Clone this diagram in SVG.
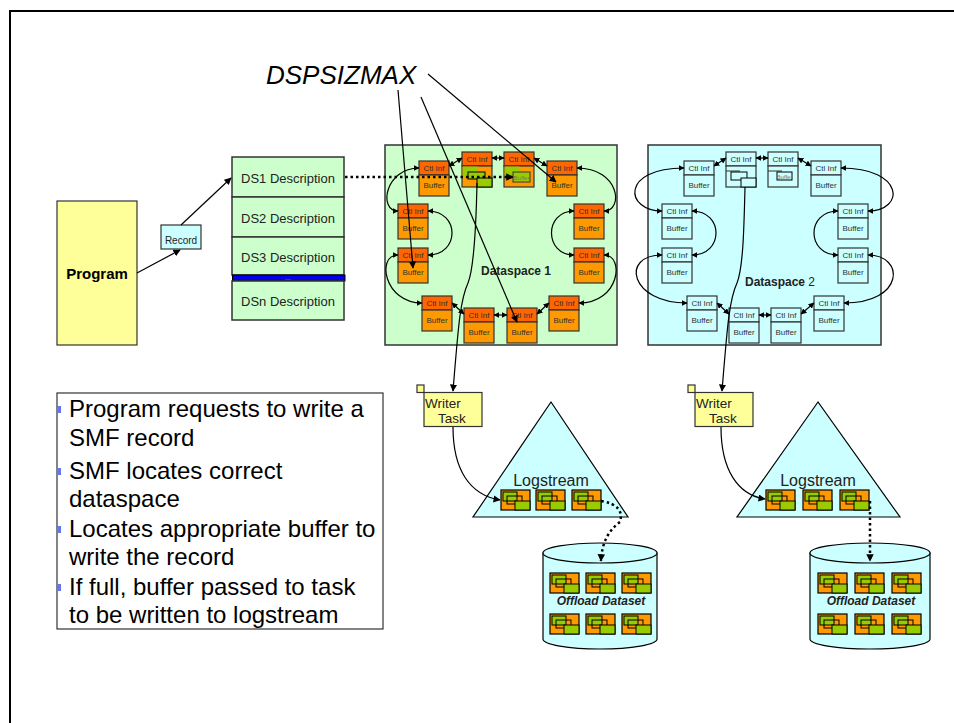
<svg xmlns="http://www.w3.org/2000/svg" width="954" height="723" viewBox="0 0 954 723">
<style>
  text { font-family: "Liberation Sans", Arial, sans-serif; }
  .ctl { fill: #FF6600; stroke: #333; stroke-width: 1.2; }
  .buf { fill: #FF9900; stroke: #333; stroke-width: 1.2; }
  .cc { fill: #CCFFFF; stroke: #333; stroke-width: 1.2; }
  .ct { font-size: 8px; text-anchor: middle; fill: #333; }
  .conn { fill: none; stroke: #000; stroke-width: 1.2; marker-start: url(#ah); marker-end: url(#ah); }
  .line { fill: none; stroke: #000; stroke-width: 1.2; marker-end: url(#ah2); }
  .dot { fill: none; stroke: #000; stroke-width: 2.5; stroke-dasharray: 2.5 3; marker-end: url(#ah3); }
  .dsd { fill: #CCFFCC; stroke: #333; stroke-width: 1.5; }
  .dst { font-size: 13px; fill: #222; }
  .bt { font-size: 24px; fill: #000; }
  .bul { fill: #6677EE; }
  .lg { font-size: 16px; text-anchor: middle; fill: #222; }
  .off { font-size: 12px; font-weight: bold; font-style: italic; text-anchor: middle; fill: #222; }
  .wt { font-size: 13.5px; fill: #222; }
  .yel { fill: #FFFF99; stroke: #333; stroke-width: 1.2; }
  .cyl { fill: #CCFFFF; stroke: #000; stroke-width: 1.2; }
</style>
<defs>
  <marker id="ah" viewBox="0 0 10 10" refX="9" refY="5" markerWidth="5" markerHeight="5" orient="auto-start-reverse">
    <path d="M0,0 L10,5 L0,10 z" fill="#000"/>
  </marker>
  <marker id="ah2" viewBox="0 0 10 10" refX="9" refY="5" markerWidth="6" markerHeight="6" orient="auto">
    <path d="M0,0 L10,5 L0,10 z" fill="#000"/>
  </marker>
  <marker id="ah3" viewBox="0 0 10 10" refX="9" refY="5" markerWidth="3" markerHeight="3" orient="auto">
    <path d="M0,0 L10,5 L0,10 z" fill="#000"/>
  </marker>
  <g id="icon">
    <rect x="0" y="0" width="29" height="20" fill="#FF9900" stroke="#000" stroke-width="1.2"/>
    <rect x="2" y="2" width="14" height="9" fill="#99CC00" stroke="#000" stroke-width="1"/>
    <rect x="6" y="6" width="15" height="8" fill="none" stroke="#000" stroke-width="1"/>
    <rect x="14" y="11" width="15" height="9" fill="#99CC00" stroke="#000" stroke-width="1"/>
  </g>
  <g id="cellO">
    <rect class="ctl" x="0" y="0" width="30" height="14"/>
    <rect class="buf" x="0" y="14" width="30" height="21"/>
    <text class="ct" x="15" y="10">Ctl Inf</text>
    <text class="ct" x="15" y="27">Buffer</text>
  </g>
  <g id="cellC">
    <rect class="cc" x="0" y="0" width="30" height="14"/>
    <rect class="cc" x="0" y="14" width="30" height="21"/>
    <text class="ct" x="15" y="10">Ctl Inf</text>
    <text class="ct" x="15" y="27">Buffer</text>
  </g>
</defs>

<rect x="10" y="11" width="970" height="740" fill="#fff" stroke="#000" stroke-width="2"/>

<g id="dspsizmax">
  <text x="266" y="84" font-size="26" font-style="italic" fill="#000">DSPSIZMAX</text>
</g>

<g id="program">
  <rect class="yel" x="57" y="201" width="80" height="144"/>
  <text x="97" y="279" font-size="15" font-weight="bold" text-anchor="middle" fill="#000">Program</text>
</g>

<g id="record">
  <rect x="161" y="225" width="40" height="24" fill="#CCFFFF" stroke="#333" stroke-width="1.2"/>
  <text x="181" y="243.5" font-size="10" text-anchor="middle" fill="#222">Record</text>
</g>

<g id="ds-descriptions">
  <rect class="dsd" x="232" y="157" width="112" height="40"/>
  <text class="dst" x="241" y="182.5">DS1 Description</text>
  <rect class="dsd" x="232" y="197" width="112" height="40"/>
  <text class="dst" x="241" y="222.5">DS2 Description</text>
  <rect class="dsd" x="232" y="237" width="112" height="38"/>
  <text class="dst" x="241" y="261.5">DS3 Description</text>
  <rect x="232.5" y="275" width="112.5" height="6" fill="#0000EE" stroke="#000" stroke-width="1"/>
  <text x="288" y="280" font-size="7" text-anchor="middle" fill="#9999FF">...</text>
  <rect class="dsd" x="232" y="281" width="112" height="39"/>
  <text class="dst" x="241" y="306">DSn Description</text>
</g>

<g id="dataspace1">
  <rect x="385" y="145" width="232" height="200" fill="#CCFFCC" stroke="#333" stroke-width="1.5"/>
  <text x="516" y="275" font-size="12" font-weight="bold" text-anchor="middle" fill="#222">Dataspace 1</text>
</g>
<g id="dataspace2">
  <rect x="648" y="145" width="233" height="200" fill="#CCFFFF" stroke="#333" stroke-width="1.5"/>
  <text x="780" y="286" font-size="12" text-anchor="middle" fill="#222"><tspan font-weight="bold">Dataspace</tspan> 2</text>
</g>

<g id="ds1-cells">
  <g id="ds1-c1"><use href="#cellO" x="419" y="161"/></g>
  <g id="ds1-c2" transform="translate(462,152)">
    <rect class="ctl" width="30" height="14"/>
    <rect class="buf" y="14" width="30" height="21"/>
    <rect x="0.6" y="14.6" width="15" height="10" fill="#99CC00"/>
    <rect x="6" y="20" width="17" height="7" fill="#99CC00" stroke="#000" stroke-width="1"/>
    <rect x="15" y="26" width="15" height="9" fill="#99CC00" stroke="#000" stroke-width="1"/>
    <text class="ct" x="15" y="10">Ctl Inf</text>
  </g>
  <g id="ds1-c3" transform="translate(504,152)">
    <rect class="ctl" width="30" height="14"/>
    <rect class="buf" y="14" width="30" height="21"/>
    <rect x="0.6" y="14.6" width="15" height="11" fill="#99CC00"/>
    <rect x="9" y="20" width="17" height="10" fill="#99CC00" stroke="#333" stroke-width="1"/>
    <text x="17.5" y="28" font-size="6" text-anchor="middle" fill="#777">Buffer</text>
    <text class="ct" x="15" y="10">Ctl Inf</text>
  </g>
  <g id="ds1-c4"><use href="#cellO" x="547" y="161"/></g>
  <g id="ds1-c5"><use href="#cellO" x="398" y="204"/></g>
  <g id="ds1-c6"><use href="#cellO" x="574" y="204"/></g>
  <g id="ds1-c7"><use href="#cellO" x="398" y="248"/></g>
  <g id="ds1-c8"><use href="#cellO" x="574" y="248"/></g>
  <g id="ds1-c9"><use href="#cellO" x="422" y="296"/></g>
  <g id="ds1-c10"><use href="#cellO" x="464" y="308"/></g>
  <g id="ds1-c11"><use href="#cellO" x="507" y="308"/></g>
  <g id="ds1-c12"><use href="#cellO" x="549" y="296"/></g>
</g>

<g id="ds2-cells">
  <g id="ds2-c1"><use href="#cellC" x="684" y="161"/></g>
  <g id="ds2-c2" transform="translate(726,152)">
    <rect class="cc" width="30" height="14"/>
    <rect class="cc" y="14" width="30" height="21"/>
    <line x1="0" y1="19" x2="14" y2="19" stroke="#333" stroke-width="1"/>
    <rect x="5" y="20" width="16" height="8" fill="#CCFFFF" stroke="#000" stroke-width="1"/>
    <rect x="15" y="26" width="15" height="9" fill="#CCFFFF" stroke="#000" stroke-width="1"/>
    <text class="ct" x="15" y="10">Ctl Inf</text>
  </g>
  <g id="ds2-c3" transform="translate(768,152)">
    <rect class="cc" width="30" height="14"/>
    <rect class="cc" y="14" width="30" height="21"/>
    <line x1="0" y1="19" x2="14" y2="19" stroke="#333" stroke-width="1"/>
    <rect x="9" y="20" width="15" height="8" fill="#CCFFFF" stroke="#000" stroke-width="1"/>
    <text x="16.5" y="26.5" font-size="6" text-anchor="middle" fill="#777">Buffer</text>
    <text class="ct" x="15" y="10">Ctl Inf</text>
  </g>
  <g id="ds2-c4"><use href="#cellC" x="811" y="161"/></g>
  <g id="ds2-c5"><use href="#cellC" x="662" y="204"/></g>
  <g id="ds2-c6"><use href="#cellC" x="838" y="204"/></g>
  <g id="ds2-c7"><use href="#cellC" x="662" y="248"/></g>
  <g id="ds2-c8"><use href="#cellC" x="838" y="248"/></g>
  <g id="ds2-c9"><use href="#cellC" x="687" y="296"/></g>
  <g id="ds2-c10"><use href="#cellC" x="729" y="308"/></g>
  <g id="ds2-c11"><use href="#cellC" x="771" y="308"/></g>
  <g id="ds2-c12"><use href="#cellC" x="814" y="296"/></g>
</g>

<g id="writer1">
  <rect class="yel" x="417" y="385" width="7" height="7.5"/>
  <rect class="yel" x="424" y="392.5" width="58" height="34"/>
  <text class="wt" x="425" y="408">Writer</text>
  <text class="wt" x="438" y="423">Task</text>
</g>
<g id="writer2">
  <rect class="yel" x="688" y="385" width="7" height="7.5"/>
  <rect class="yel" x="695" y="392.5" width="58" height="34"/>
  <text class="wt" x="696" y="408">Writer</text>
  <text class="wt" x="709" y="423">Task</text>
</g>

<g id="logstream1">
  <polygon points="551,402 473,517 628,517" fill="#CCFFFF" stroke="#000" stroke-width="1.2"/>
  <text class="lg" x="551" y="486">Logstream</text>
  <use href="#icon" x="501" y="490"/>
  <use href="#icon" x="536" y="490"/>
  <use href="#icon" x="572" y="490"/>
</g>
<g id="logstream2">
  <polygon points="818,402 737,517 900,517" fill="#CCFFFF" stroke="#000" stroke-width="1.2"/>
  <text class="lg" x="818" y="486">Logstream</text>
  <use href="#icon" x="766" y="490"/>
  <use href="#icon" x="803" y="490"/>
  <use href="#icon" x="840" y="490"/>
</g>

<g id="offload1">
  <path class="cyl" d="M543,553 L543,639 A57,10 0 0 0 657,639 L657,553 Z"/>
  <ellipse class="cyl" cx="600" cy="553" rx="57" ry="10"/>
  <use href="#icon" x="550" y="573"/>
  <use href="#icon" x="586" y="573"/>
  <use href="#icon" x="622" y="573"/>
  <text class="off" x="601" y="605">Offload Dataset</text>
  <use href="#icon" x="550" y="614"/>
  <use href="#icon" x="586" y="614"/>
  <use href="#icon" x="622" y="614"/>
</g>
<g id="offload2">
  <path class="cyl" d="M810,553 L810,639 A60,10 0 0 0 930,639 L930,553 Z"/>
  <ellipse class="cyl" cx="870" cy="553" rx="60" ry="10"/>
  <use href="#icon" x="818" y="573"/>
  <use href="#icon" x="855" y="573"/>
  <use href="#icon" x="892" y="573"/>
  <text class="off" x="871" y="605">Offload Dataset</text>
  <use href="#icon" x="818" y="614"/>
  <use href="#icon" x="855" y="614"/>
  <use href="#icon" x="892" y="614"/>
</g>

<g id="notes">
  <rect x="57" y="393" width="326" height="236" fill="#fff" stroke="#333" stroke-width="1.2"/>
  <rect class="bul" x="57.5" y="406" width="3.5" height="7"/>
  <rect class="bul" x="57.5" y="468" width="3.5" height="7"/>
  <rect class="bul" x="57.5" y="526" width="3.5" height="7"/>
  <rect class="bul" x="57.5" y="584" width="3.5" height="7"/>
  <text class="bt" x="69" y="417">Program requests to write a</text>
  <text class="bt" x="69" y="446">SMF record</text>
  <text class="bt" x="69" y="479">SMF locates correct</text>
  <text class="bt" x="69" y="507">dataspace</text>
  <text class="bt" x="69" y="537">Locates appropriate buffer to</text>
  <text class="bt" x="69" y="565">write the record</text>
  <text class="bt" x="69" y="595">If full, buffer passed to task</text>
  <text class="bt" x="69" y="623">to be written to logstream</text>
</g>

<g id="connectors">
  <path class="conn" d="M449,166 L462,158"/>
  <path class="conn" d="M492,158 L504,158"/>
  <path class="conn" d="M534,158 L547,166"/>
  <path class="conn" d="M419,168 C385,168 378,211 398,211"/>
  <path class="conn" d="M428,211 C460,211 460,255 428,255"/>
  <path class="conn" d="M398,255 C376,255 384,303 422,303"/>
  <path class="conn" d="M452,303 L464,314"/>
  <path class="conn" d="M494,315 L507,315"/>
  <path class="conn" d="M537,314 L549,303"/>
  <path class="conn" d="M579,303 C620,303 625,255 604,255"/>
  <path class="conn" d="M574,255 C544,255 544,211 574,211"/>
  <path class="conn" d="M604,211 C624,211 620,168 577,168"/>
  <path class="conn" d="M714,166 L726,158"/>
  <path class="conn" d="M756,158 L768,158"/>
  <path class="conn" d="M798,158 L811,166"/>
  <path class="conn" d="M684,168 C620,168 625,211 662,211"/>
  <path class="conn" d="M692,211 C724,211 724,255 692,255"/>
  <path class="conn" d="M662,255 C620,255 630,303 687,303"/>
  <path class="conn" d="M717,303 L729,314"/>
  <path class="conn" d="M759,315 L771,315"/>
  <path class="conn" d="M801,314 L814,303"/>
  <path class="conn" d="M844,303 C905,303 905,255 868,255"/>
  <path class="conn" d="M838,255 C806,255 806,211 838,211"/>
  <path class="conn" d="M868,211 C905,211 905,168 841,168"/>
  <path class="line" d="M137,273 L180,250"/>
  <path class="line" d="M181,225 L231,178"/>
  <path class="dot" d="M345,177 L513,177"/>
  <path class="line" d="M398,90 L413,268"/>
  <path class="line" d="M421,97 L517,322"/>
  <path class="line" d="M428,74 L556,182"/>
  <path class="line" d="M477,183 C476,230 474,268 468,283 C460,300 458,330 453,391"/>
  <path class="line" d="M745,187 C744,230 743,268 737,283 C729,300 727,330 722,391"/>
  <path class="line" d="M453,427 C453,470 470,495 500,500"/>
  <path class="line" d="M721,427 C721,470 738,495 765,499"/>
  <path class="dot" stroke-width="2" d="M601,501 Q625,505 620,522 Q602,535 601,561"/>
  <path class="dot" stroke-width="2" d="M870,501 L870,561"/>
</g>
</svg>
